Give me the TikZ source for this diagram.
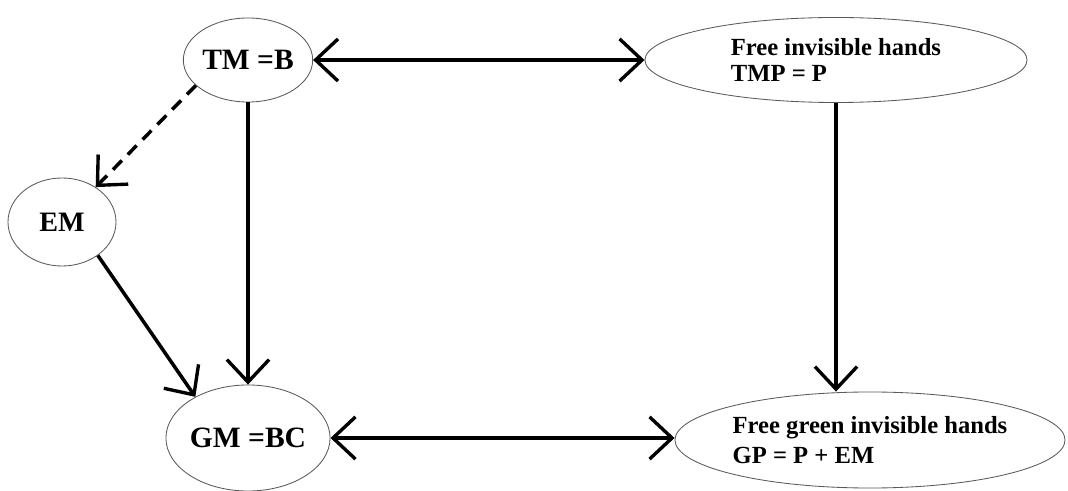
\documentclass[tikz,border=0pt]{standalone}
\usepackage{fontspec}
\setmainfont{Liberation Serif}
\usetikzlibrary{shapes.geometric,arrows.meta}
\begin{document}
\begin{tikzpicture}[x=0.025cm,y=-0.025cm,>={Straight Barb[length=16pt,width=30pt,line width=2.4pt]},
  oval/.style={ellipse,draw=black!65,line width=0.6pt,inner sep=0pt},
  link/.style={line width=2.5pt}]
\useasboundingbox (0,0) rectangle (1068,491);

\node[oval,minimum width=2.95cm,minimum height=2.1cm,font=\bfseries\fontsize{21}{25}\selectfont] (tm) at (248,60) {TM =B};
\node[oval,minimum width=9.55cm,minimum height=2.125cm,align=left,font=\bfseries\fontsize{17.5}{18}\selectfont] (free) at (836,60) {Free invisible hands\\TMP = P};
\node[oval,minimum width=2.7cm,minimum height=2.2cm,font=\bfseries\fontsize{20}{24}\selectfont] (em) at (62,222) {EM};
\node[oval,minimum width=3.65cm,minimum height=2.65cm,font=\bfseries\fontsize{21}{25}\selectfont] (gm) at (248,438) {GM =BC};
\node[oval,minimum width=9.75cm,minimum height=2.4cm,align=left,font=\bfseries\fontsize{17.5}{21.5}\selectfont] (green) at (870,440) {Free green invisible hands\\GP = P + EM};

\draw[link,<->] (tm) -- (free);
\draw[link,->] (tm) -- (gm);
\draw[link,->,dash pattern=on 9pt off 6pt] (tm.206) -- (em.46);
\draw[link,->] (em.317) -- (gm.142);
\draw[link,->] (free.south) -- (free.south |- green.north);
\draw[link,<->] (gm.east) -- (gm.east -| green.west);
\end{tikzpicture}
\end{document}
